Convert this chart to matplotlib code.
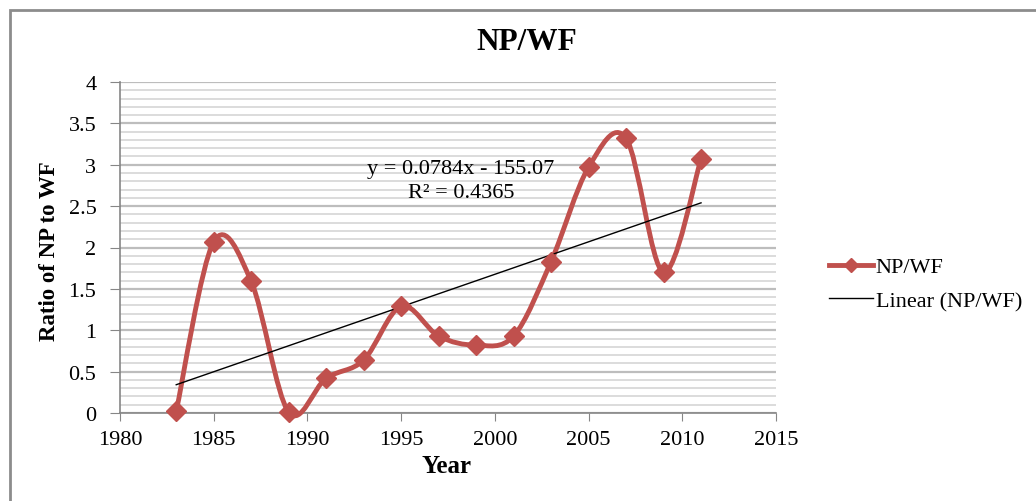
import numpy as np
import matplotlib.pyplot as plt
from matplotlib.path import Path
from matplotlib.patches import PathPatch, Rectangle
from matplotlib.lines import Line2D
from matplotlib.ticker import MultipleLocator, FuncFormatter

# NP/WF ratio, every second year
years = [1983, 1985, 1987, 1989, 1991, 1993, 1995, 1997, 1999, 2001,
         2003, 2005, 2007, 2009, 2011]
ratio = [0.02, 2.07, 1.59, 0.01, 0.42, 0.64, 1.29, 0.93, 0.82, 0.93,
         1.83, 2.97, 3.32, 1.70, 3.07]
x_ticks = [1980, 1985, 1990, 1995, 2000, 2005, 2010, 2015]
eq_text = "y = 0.0784x - 155.07"
r2_text = "R\u00b2 = 0.4365"

red = '#C0504D'
plt.rcParams['font.family'] = ['Liberation Serif', 'DejaVu Serif']

fig = plt.figure(figsize=(10.36, 5.02), dpi=100)
ax = fig.add_axes([120 / 1036, 88 / 502, 656 / 1036, 331 / 502])

# smoothed line: cubic bezier segments through the points (Catmull-Rom style)
x = np.array(years, dtype=float)
y = np.array(ratio, dtype=float)
n = len(x)
verts = [(x[0], y[0])]
codes = [Path.MOVETO]
for i in range(n - 1):
    p = max(i - 1, 0)
    q = min(i + 2, n - 1)
    c1 = (x[i] + (x[i + 1] - x[p]) / 6, y[i] + (y[i + 1] - y[p]) / 6)
    c2 = (x[i + 1] - (x[q] - x[i]) / 6, y[i + 1] - (y[q] - y[i]) / 6)
    verts += [c1, c2, (x[i + 1], y[i + 1])]
    codes += [Path.CURVE4] * 3
curve = PathPatch(Path(verts, codes), fill=False, edgecolor=red, lw=3.5,
                  zorder=3, clip_on=False, capstyle='round', joinstyle='round')
ax.add_patch(curve)
ax.plot(years, ratio, 'D', color=red, ms=10, zorder=4, clip_on=False)

# linear trend
coef = np.polyfit(x, y, 1)
ends = np.array([x[0], x[-1]])
ax.plot(ends, np.polyval(coef, ends), color='black', lw=1, zorder=3)

ax.text(1998.2, 2.95, eq_text, ha='center', va='center', fontsize=16)
ax.text(1998.2, 2.66, r2_text, ha='center', va='center', fontsize=16)

ax.set_xlim(1980, 2015)
ax.set_ylim(0, 4)
ax.set_xticks(x_ticks)
ax.yaxis.set_major_locator(MultipleLocator(0.5))
ax.yaxis.set_minor_locator(MultipleLocator(0.1))
ax.yaxis.set_major_formatter(FuncFormatter(lambda v, pos: '%g' % v))
ax.grid(which='minor', axis='y', color='#D9D9D9', lw=1.3, zorder=0)
ax.grid(which='major', axis='y', color='#BDBDBD', lw=1.6, zorder=0)
ax.set_axisbelow(True)
for s in ['top', 'right']:
    ax.spines[s].set_visible(False)
for s in ['left', 'bottom']:
    ax.spines[s].set_color('#868686')
    ax.spines[s].set_linewidth(1.2)
ax.tick_params(axis='y', which='major', length=7, color='#868686',
               labelsize=16, pad=10)
ax.tick_params(axis='x', which='major', length=6, color='#868686',
               labelsize=16, pad=6)
ax.tick_params(which='minor', length=0)

fig.text(527 / 1036, 1 - 43 / 502, 'NP/WF', ha='center', va='center',
         fontsize=22.5, fontweight='bold')
fig.text(50 / 1036, 1 - 251 / 502, 'Ratio of NP to WF', rotation=90,
         ha='center', va='center', fontsize=16.5, fontweight='bold')
fig.text(447 / 1036, 1 - 467 / 502, 'Year', ha='center', va='center',
         fontsize=18, fontweight='bold')

handles = [Line2D([], [], color=red, lw=3.5, marker='D', ms=7),
           Line2D([], [], color='black', lw=1)]
fig.legend(handles, ['NP/WF', 'Linear (NP/WF)'], loc='center left',
           bbox_to_anchor=(829 / 1036, 1 - 285 / 502), frameon=False,
           fontsize=16, handlelength=2.0, handletextpad=0.1,
           labelspacing=0.6, borderpad=0, borderaxespad=0)

# chart frame
fig.patches.append(Rectangle((10 / 1036, -0.1), 1.2, 491 / 502 + 0.1,
                             transform=fig.transFigure, fill=False,
                             edgecolor='#8C8C8C', lw=2))

plt.savefig('out.png', dpi=100)
